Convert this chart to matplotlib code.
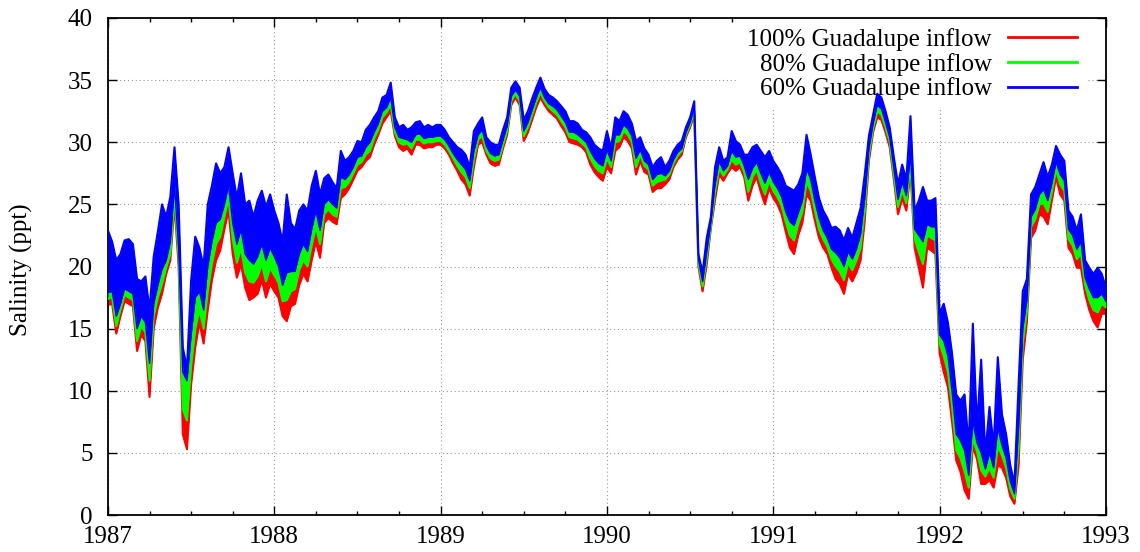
import numpy as np
import matplotlib
matplotlib.use("Agg")
import matplotlib.pyplot as plt
from matplotlib.ticker import MultipleLocator

# Salinity envelopes (ppt), sampled every 0.025 yr from 1987.0 to 1993.0
# blue = 60% inflow, green = 80% inflow, red = 100% inflow
blue_hi = [
    22.9, 22.0, 20.5, 21.0, 22.1, 22.2, 21.8, 19.0, 18.8, 19.2,
    16.5, 20.8, 22.8, 25.0, 24.0, 25.6, 29.6, 25.0, 13.5, 11.8,
    18.9, 22.4, 21.5, 20.0, 25.0, 26.5, 28.3, 27.5, 28.0, 29.6,
    27.5, 25.5, 27.5, 25.0, 25.3, 24.0, 25.3, 26.1, 24.8, 25.8,
    24.5, 23.5, 22.0, 25.8, 23.5, 23.0, 24.5, 25.0, 24.5, 26.5,
    27.7, 25.8, 27.1, 27.4, 26.8, 26.3, 29.3, 28.5, 28.8, 29.3,
    30.1, 30.0, 31.0, 31.4, 32.0, 32.5, 33.6, 33.8, 34.8, 32.0,
    31.2, 31.4, 31.0, 31.2, 31.6, 31.7, 31.2, 31.4, 31.2, 31.4,
    31.4, 31.0, 30.4, 30.0, 29.6, 29.4, 29.0, 28.0, 30.9, 31.5,
    32.0, 30.4, 30.0, 29.8, 29.8, 31.0, 32.0, 34.4, 34.9, 34.4,
    31.8, 32.5, 33.5, 34.4, 35.2, 34.3, 33.8, 33.6, 33.3, 32.9,
    32.5, 31.7, 31.7, 31.5, 31.0, 30.8, 30.4, 29.8, 29.5, 29.3,
    30.9, 29.5, 32.0, 31.7, 32.5, 32.2, 31.5, 30.1, 30.4, 29.5,
    29.0, 28.0, 28.5, 28.8, 28.0, 28.5, 29.3, 29.8, 30.1, 31.2,
    32.0, 33.3, 21.0, 19.5, 22.3, 24.0, 28.0, 29.6, 28.5, 28.8,
    30.9, 30.1, 29.8, 29.0, 29.0, 29.6, 29.8, 29.3, 28.8, 29.3,
    28.5, 28.0, 27.4, 26.5, 26.3, 26.1, 26.6, 27.5, 30.6, 29.0,
    27.2, 25.5, 24.5, 23.9, 23.1, 23.2, 22.9, 22.1, 23.1, 22.3,
    23.5, 24.7, 27.4, 30.5, 32.2, 33.9, 33.6, 32.5, 31.2, 28.8,
    26.6, 28.2, 27.0, 32.1, 24.5, 25.3, 26.4, 25.3, 25.3, 25.5,
    16.2, 17.0, 15.5, 13.0, 9.7, 9.2, 9.7, 5.5, 15.4, 7.1,
    12.5, 4.9, 8.7, 5.5, 12.7, 8.1, 6.5, 4.0, 2.5, 10.5,
    18.0, 19.0, 25.8, 26.4, 27.4, 28.4, 27.2, 28.2, 29.7, 29.0,
    28.5, 24.5, 24.0, 22.9, 24.2, 20.5, 19.9, 19.4, 19.9, 19.4,
    18.3,
]
blue_lo = [
    17.9, 18.0, 16.0, 17.0, 18.2, 18.0, 17.8, 15.0, 16.0, 15.5,
    12.2, 17.0, 18.5, 19.8, 20.5, 22.0, 26.5, 21.5, 11.5, 10.8,
    14.5, 17.5, 18.0, 16.5, 20.0, 22.0, 23.5, 23.8, 25.0, 26.5,
    23.5, 21.8, 23.0, 21.0, 20.5, 20.2, 20.8, 21.8, 20.5, 21.5,
    20.8, 20.0, 18.5, 19.5, 19.6, 19.6, 21.0, 21.8, 21.2, 23.0,
    24.5, 22.9, 25.0, 25.4, 25.0, 24.7, 27.2, 27.0, 27.4, 28.0,
    28.8, 28.9, 29.6, 30.0, 30.8, 31.5, 32.5, 32.8, 33.6, 31.2,
    30.4, 30.3, 30.2, 30.0, 30.6, 30.7, 30.3, 30.4, 30.4, 30.5,
    30.5, 30.2, 29.7, 29.1, 28.6, 28.2, 27.8, 26.9, 29.3, 30.6,
    31.0, 29.7, 29.1, 28.9, 29.0, 30.2, 31.3, 33.7, 34.2, 33.7,
    30.9, 31.6, 32.6, 33.6, 34.4, 33.6, 33.1, 32.9, 32.6, 32.1,
    31.6, 30.8, 30.8, 30.6, 30.3, 30.0, 29.3, 28.7, 28.3, 28.1,
    29.4, 28.5, 30.6, 30.6, 31.4, 31.1, 30.5, 28.7, 29.4, 28.5,
    28.2, 27.0, 27.4, 27.5, 27.3, 27.7, 28.6, 29.2, 29.5, 30.8,
    31.6, 32.8, 20.6, 18.8, 21.2, 23.6, 26.6, 28.5, 27.7, 28.1,
    29.3, 28.8, 28.9, 28.1, 27.0, 27.9, 28.4, 27.5, 26.7, 27.6,
    26.8, 26.3, 25.6, 24.4, 23.6, 23.3, 24.3, 25.3, 27.9, 27.0,
    25.3, 23.9, 22.9, 22.3, 21.4, 21.1, 20.7, 20.0, 21.2, 20.6,
    21.4, 22.6, 25.5, 29.5, 31.5, 33.0, 32.7, 31.6, 30.4, 27.9,
    25.4, 26.8, 25.7, 29.0, 23.0, 22.5, 22.0, 23.4, 23.2, 23.2,
    14.5, 14.0, 12.8, 10.0, 6.5, 6.0, 5.2, 3.2, 7.5, 5.8,
    5.0, 3.7, 5.0, 3.8, 7.0, 5.6, 4.6, 2.7, 1.7, 7.0,
    15.0, 17.3, 24.0, 24.6, 25.8, 26.2, 25.3, 26.7, 28.4, 27.4,
    26.9, 23.0, 22.5, 21.4, 22.0, 19.1, 18.2, 17.5, 17.5, 17.8,
    17.2,
]
green_lo = [
    17.4, 17.5, 15.2, 16.5, 17.7, 17.5, 17.3, 14.0, 15.2, 14.7,
    10.8, 16.0, 17.5, 18.6, 19.9, 21.0, 25.7, 20.8, 8.5, 7.6,
    12.0, 15.0, 16.5, 15.0, 18.0, 20.2, 21.8, 22.4, 24.0, 25.5,
    22.2, 20.3, 21.5, 19.5, 18.8, 18.7, 19.2, 20.2, 18.8, 19.9,
    19.3, 18.7, 17.2, 17.3, 18.0, 18.2, 19.7, 20.5, 20.0, 21.7,
    23.2, 21.8, 24.2, 24.6, 24.2, 24.0, 26.3, 26.4, 26.8, 27.5,
    28.2, 28.4, 29.0, 29.3, 30.3, 31.0, 32.0, 32.4, 33.0, 30.8,
    30.0, 29.8, 29.9, 29.5, 30.2, 30.2, 29.9, 30.0, 30.0, 30.1,
    30.1, 29.8, 29.3, 28.7, 28.1, 27.6, 27.2, 26.3, 28.6, 30.2,
    30.5, 29.3, 28.7, 28.5, 28.6, 29.8, 30.9, 33.3, 33.9, 33.3,
    30.5, 31.2, 32.2, 33.2, 34.0, 33.3, 32.8, 32.5, 32.2, 31.7,
    31.2, 30.4, 30.3, 30.2, 29.9, 29.6, 28.7, 28.1, 27.7, 27.5,
    28.7, 28.0, 30.0, 30.1, 30.9, 30.6, 30.0, 28.0, 29.0, 28.1,
    27.8, 26.5, 26.8, 26.9, 27.0, 27.4, 28.3, 28.9, 29.3, 30.6,
    31.4, 32.5, 20.3, 18.4, 20.7, 23.3, 26.0, 27.9, 27.3, 27.8,
    28.6, 28.2, 28.4, 27.6, 26.0, 27.2, 27.8, 26.7, 25.8, 26.9,
    26.1, 25.6, 24.9, 23.6, 22.5, 22.1, 23.4, 24.4, 26.8, 26.1,
    24.5, 23.0, 22.2, 21.6, 20.6, 20.0, 19.6, 18.9, 20.3, 19.7,
    20.5, 21.5, 24.6, 29.0, 31.1, 32.5, 32.2, 31.2, 30.0, 27.4,
    24.8, 26.1, 25.1, 28.2, 22.2, 21.2, 20.2, 22.5, 22.3, 22.1,
    13.8, 12.8, 11.5, 8.8, 5.2, 4.6, 3.5, 2.2, 6.2, 5.1,
    3.6, 3.1, 3.8, 3.0, 5.5, 4.8, 3.8, 2.1, 1.3, 5.5,
    13.8, 16.5, 23.2, 23.8, 25.0, 25.1, 24.4, 26.0, 27.8, 26.6,
    26.1, 22.2, 21.7, 20.6, 21.0, 18.5, 17.3, 16.5, 16.3, 17.0,
    16.7,
]
red_lo = [
    16.9, 17.0, 14.6, 16.0, 17.2, 17.0, 16.8, 13.2, 14.5, 14.0,
    9.5, 15.0, 16.7, 17.8, 19.4, 20.5, 25.0, 20.0, 6.5, 5.3,
    10.5, 13.5, 15.5, 13.8, 16.5, 18.9, 20.5, 21.3, 23.0, 24.5,
    21.0, 19.1, 20.2, 18.3, 17.3, 17.5, 17.8, 18.9, 17.5, 18.6,
    18.0, 17.5, 16.0, 15.6, 16.8, 17.0, 18.5, 19.4, 18.8, 20.5,
    22.0, 20.7, 23.5, 23.9, 23.6, 23.4, 25.5, 25.8, 26.3, 27.0,
    27.7, 28.0, 28.5, 28.8, 29.8, 30.6, 31.5, 32.0, 32.5, 30.5,
    29.6, 29.3, 29.5, 29.0, 29.8, 29.8, 29.5, 29.6, 29.6, 29.8,
    29.8, 29.5, 29.0, 28.3, 27.7, 27.0, 26.6, 25.7, 28.0, 29.8,
    30.0, 29.0, 28.3, 28.1, 28.2, 29.5, 30.6, 33.0, 33.6, 33.0,
    30.1, 30.8, 31.8, 32.8, 33.6, 33.0, 32.5, 32.2, 31.9, 31.3,
    30.8, 30.0, 29.9, 29.8, 29.6, 29.2, 28.2, 27.6, 27.2, 26.9,
    28.0, 27.5, 29.3, 29.6, 30.4, 30.1, 29.5, 27.4, 28.5, 27.6,
    27.4, 26.0, 26.3, 26.3, 26.6, 27.0, 28.0, 28.6, 29.0, 30.4,
    31.2, 32.2, 20.0, 18.0, 20.2, 23.1, 25.4, 27.4, 26.9, 27.5,
    28.0, 27.7, 28.0, 27.2, 25.3, 26.5, 27.2, 26.0, 25.0, 26.3,
    25.5, 25.0, 24.2, 22.8, 21.5, 21.0, 22.5, 23.5, 25.8, 25.3,
    23.7, 22.3, 21.5, 21.0, 19.9, 19.0, 18.6, 17.8, 19.4, 18.8,
    19.5, 20.5, 23.7, 28.5, 30.8, 32.0, 31.8, 30.8, 29.6, 27.0,
    24.2, 25.5, 24.5, 27.7, 21.5, 19.9, 18.3, 21.5, 21.3, 21.0,
    13.0, 11.5, 10.3, 7.5, 4.4, 3.5, 2.0, 1.3, 5.5, 4.5,
    2.5, 2.5, 2.8, 2.2, 4.0, 3.8, 3.0, 1.5, 0.9, 4.0,
    12.5, 15.6, 22.3, 22.9, 24.2, 24.0, 23.4, 25.3, 27.2, 25.8,
    25.3, 21.5, 21.0, 19.9, 19.9, 17.8, 16.5, 15.6, 15.1, 16.2,
    16.2,
]
years = 1987 + 0.025 * np.arange(len(blue_hi))

labels = ["100% Guadalupe inflow", "80% Guadalupe inflow", "60% Guadalupe inflow"]
RED, GREEN, BLUE = "#ff0000", "#00ff00", "#0000ff"

plt.rcParams["font.family"] = ["Liberation Serif", "DejaVu Serif"]
plt.rcParams["font.size"] = 18

fig = plt.figure(figsize=(11.4, 5.52), dpi=100)
ax = fig.add_axes([0.0947, 0.067, 0.8754, 0.9004])

# stacked bands: red under green under blue
ax.fill_between(years, red_lo, blue_lo, color=RED, lw=0, zorder=2)
ax.fill_between(years, green_lo, blue_lo, color=GREEN, lw=0, zorder=3)
ax.fill_between(years, blue_lo, blue_hi, color=BLUE, lw=0, zorder=4)
l1, = ax.plot(years, red_lo, color=RED, lw=1.5, zorder=2.5)
l2, = ax.plot(years, green_lo, color=GREEN, lw=1.5, zorder=3.5)
l3, = ax.plot(years, blue_hi, color=BLUE, lw=1.5, zorder=4.5)
ax.plot(years, blue_lo, color=BLUE, lw=1.0, zorder=4.5)

ax.set_xlim(1987, 1993)
ax.set_ylim(0, 40)
ax.xaxis.set_major_locator(MultipleLocator(1))
ax.xaxis.set_minor_locator(MultipleLocator(0.25))
ax.yaxis.set_major_locator(MultipleLocator(5))
ax.set_xticklabels([f"{int(v)}" for v in ax.get_xticks()])

ax.tick_params(which="both", direction="in", top=True, right=True, width=1)
ax.tick_params(which="major", length=6.5)
ax.tick_params(which="minor", length=3.2)
ax.tick_params(axis="x", pad=8)
ax.tick_params(axis="y", pad=11)
for s in ax.spines.values():
    s.set_linewidth(1.3)

ax.set_axisbelow(True)
ax.grid(True, which="major", color="#999999", lw=0.8, ls=(0, (1, 2.5)))

ax.set_ylabel("Salinity (ppt)")
ax.yaxis.set_label_coords(-0.075, 0.493)

leg = ax.legend([l1, l2, l3], labels, loc="upper right",
                bbox_to_anchor=(0.981, 1.0), borderaxespad=0, borderpad=0.4,
                markerfirst=False, handlelength=2.76, handletextpad=0.64,
                labelspacing=0.07, frameon=True, fancybox=False,
                facecolor="white", edgecolor="none", framealpha=1)
for h in leg.legend_handles:
    h.set_linewidth(2)
leg.set_zorder(1)

plt.savefig("out.png", dpi=100)
